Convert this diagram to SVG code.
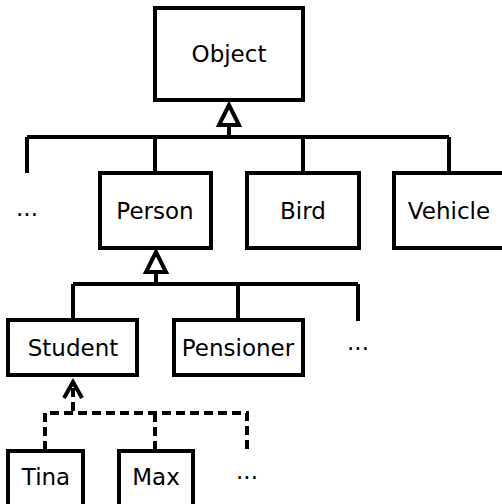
<svg xmlns="http://www.w3.org/2000/svg" width="502" height="504" viewBox="0 0 502 504">
<style>
.box{fill:#fff;stroke:#000;stroke-width:4}
.t{font-family:"DejaVu Sans",sans-serif;font-size:23px;fill:#000;text-anchor:middle;dominant-baseline:central}
.ln{fill:none;stroke:#000;stroke-width:4}
.ds{fill:none;stroke:#000;stroke-width:4;stroke-dasharray:9,5}
.tri{fill:#fff;stroke:#000;stroke-width:4;stroke-linejoin:miter}
</style>
<rect width="502" height="504" fill="#fff"/>
<g id="connectors">
<path class="ln" d="M229,125 V137 M27,137 H449 M27,137 V173 M155,137 V173 M303,137 V173 M449,137 V173"/>
<polygon class="tri" points="229,105 219,125 239,125"/>
<path class="ln" d="M156,272 V284 M73,284 H358 M73,284 V320 M238,284 V320 M358,284 V321"/>
<polygon class="tri" points="156,252 146,272 166,272"/>
<path class="ln" d="M64,398 L73,382 L82,398"/>
<path class="ds" d="M73,388 V413 M45,450 V413 H247 V450 M155,413 V450"/>
</g>
<g id="object"><rect class="box" x="155" y="8" width="148" height="92"/><text class="t" x="229" y="54">Object</text></g>
<g id="more1"><text class="t" x="27" y="208">...</text></g>
<g id="person"><rect class="box" x="100" y="173" width="111" height="75"/><text class="t" x="155" y="211">Person</text></g>
<g id="bird"><rect class="box" x="247" y="173" width="112" height="75"/><text class="t" x="303" y="211">Bird</text></g>
<g id="vehicle"><rect class="box" x="394" y="173" width="111" height="75"/><text class="t" x="449" y="211">Vehicle</text></g>
<g id="student"><rect class="box" x="8" y="320" width="129" height="55"/><text class="t" x="73" y="348">Student</text></g>
<g id="pensioner"><rect class="box" x="174" y="320" width="129" height="55"/><text class="t" x="238" y="348">Pensioner</text></g>
<g id="more2"><text class="t" x="358" y="342">...</text></g>
<g id="tina"><rect class="box" x="8" y="451" width="75" height="60"/><text class="t" x="46" y="477">Tina</text></g>
<g id="max"><rect class="box" x="119" y="451" width="74" height="60"/><text class="t" x="156" y="477">Max</text></g>
<g id="more3"><text class="t" x="247" y="471">...</text></g>
</svg>
